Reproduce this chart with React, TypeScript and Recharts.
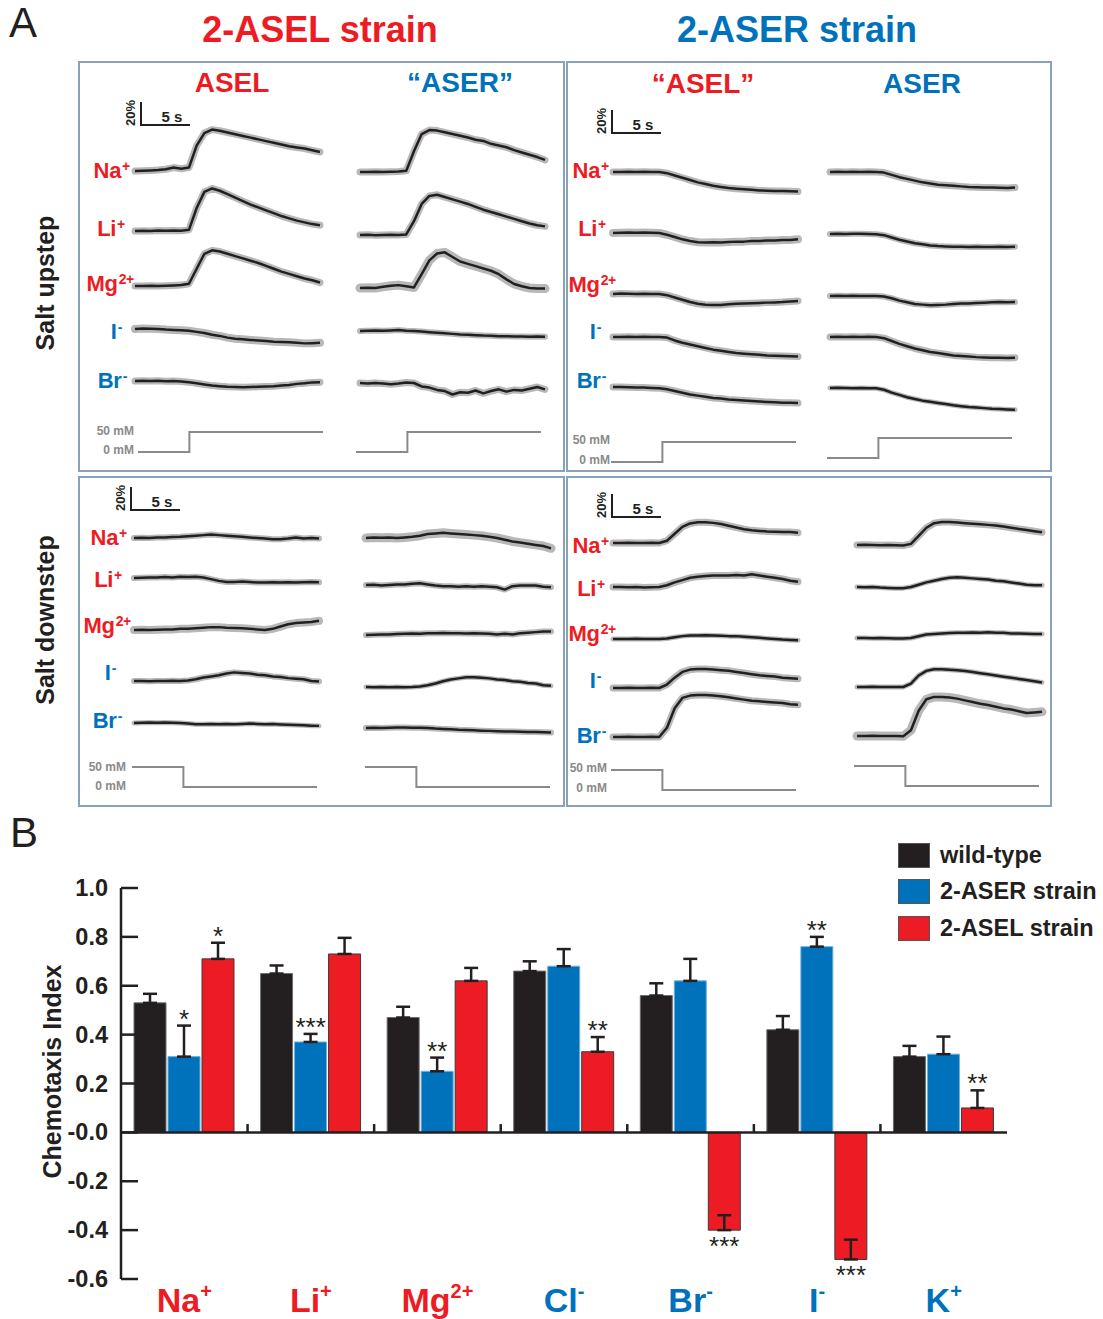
import {
  Bar,
  BarChart,
  ErrorBar,
  LabelList,
  Legend,
  Line,
  LineChart,
  ReferenceLine,
  XAxis,
  YAxis,
} from "recharts";

const RED = "#ed1c24";
const BLUE = "#0072bc";
const INK = "#231f20";
const FRAME = "#88a3b6";
const STIM_GRAY = "#8a8a8a";
const BAND_GRAY = "#b8b8b8";
const FONT = "'Liberation Sans', Arial, Helvetica, sans-serif";
const PAGE_W = 1103;
const PAGE_H = 1319;

// ---------- Panel A: calcium traces (% dF/F, one sample every 0.75 s) ----------
// salt upstep, 2-ASEL strain, ASEL
const UP_ASEL_NA = [0, 0.3, 0.5, 0.8, 1.5, 3, 2, 3, 22, 33, 36, 35, 33.5, 32, 30.5, 29, 27.5, 26, 24.5, 23, 21.5, 20.5, 19.5, 18, 16.5];
const UP_ASEL_LI = [0, 0.3, 0, 0.4, 0.2, 0.5, 0.3, 1, 20, 34, 37, 35, 32, 29, 26, 23, 20.5, 18, 15.5, 13, 11, 9, 7.5, 6, 5];
const UP_ASEL_MG = [0, 0, 0.3, 0, 0.2, 0.5, 0.8, 2, 15, 28, 31, 30, 28, 26, 24, 22, 20, 17.5, 15, 12.5, 10.5, 8.5, 6.5, 5, 3];
const UP_ASEL_I = [0, 0.5, 0.3, 0, -0.5, -0.8, -1, -1.5, -2.5, -3.5, -5, -6, -7.5, -8.5, -9, -9.5, -10, -10.5, -11, -11.2, -11.5, -12, -12.5, -12.3, -12];
const UP_ASEL_BR = [0, 0.3, 0, 0.2, -0.2, 0, -0.5, -1, -2, -3, -4, -4.5, -5, -5.2, -5.5, -5.3, -5, -4.8, -4.5, -4, -3.5, -2.5, -2, -1.2, -1];
// salt upstep, 2-ASEL strain, "ASER"
const UP_XASER_NA = [0, 0, 0.3, 0, 0.3, 0.5, 1, 18, 33, 36.5, 36, 34.5, 33, 31.5, 30, 28, 27, 24.5, 23, 21.5, 19, 17, 15, 13, 10.5];
const UP_XASER_LI = [0, 0.2, -0.2, 0, 0.3, 0, 0.5, 12, 27, 34, 35, 33, 31, 29, 27, 24.5, 22, 20, 18, 16, 14, 12, 10, 8.5, 7.5];
const UP_XASER_MG = [0, 0.3, 0, 1, 2, 2.5, 1.5, 0.5, 12, 24, 30, 31, 27, 23, 21, 19, 17, 15, 12, 7.5, 3.5, 1.5, 0, -0.5, -0.5];
const UP_XASER_I = [0, 0.3, 0.5, 0.3, 0.5, 0.8, 0.3, 0, -0.5, -1, -1.5, -2, -2.5, -3, -3.3, -3.6, -4, -4.2, -4.5, -4.6, -4.7, -4.8, -5, -4.8, -5];
const UP_XASER_BR = [0, -0.5, 0, -0.5, -1, -0.5, 0.5, 0, -3, -4, -6, -7, -10, -8, -8.5, -6.5, -9, -7, -5.5, -7.5, -6, -6.5, -5, -3.5, -5.5];
// salt upstep, 2-ASER strain, "ASEL"
const UP_XASEL_NA = [0, 0, 0.2, 0, 0.2, 0, 0, -1, -3, -5, -7, -9, -10.5, -12, -13, -14, -14.5, -15, -15.5, -16, -16.2, -16.5, -16.5, -16.8, -17];
const UP_XASEL_LI = [0, 0.3, 0.5, 0.3, 0.5, 0.3, 0, -1.5, -3.5, -5.5, -7, -8, -8.2, -8, -8.2, -7.8, -7.5, -7.5, -7, -7, -6.5, -6.5, -6, -6, -5.5];
const UP_XASEL_MG = [0, 0.5, 0.3, 0, 0.3, 0, 0, -1, -3, -5, -7, -8.5, -9.3, -9.5, -9.5, -9, -8.5, -8.3, -8, -7.8, -7.5, -7.3, -7, -6.5, -6];
const UP_XASEL_I = [0, 0, 0.3, 0, 0.2, 0, 0, -0.5, -3, -5, -6.5, -8, -9.5, -11, -12, -13, -14, -14.5, -15, -15.5, -16, -16.3, -16.5, -16.8, -17];
const UP_XASEL_BR = [0, 0, -0.3, -0.5, -0.5, -0.8, -1, -2, -3.5, -5, -6.5, -7.5, -8.5, -9.5, -10, -10.8, -11.3, -11.8, -12.2, -12.6, -13, -13.3, -13.6, -13.8, -14];
// salt upstep, 2-ASER strain, ASER
const UP_ASER_NA = [0, 0.2, 0, 0.3, 0, 0.2, 0, -0.5, -2.5, -4.5, -6, -7.5, -9, -10, -11, -11.5, -12, -12.5, -13, -13.2, -13.5, -13.5, -13.8, -14, -13.5];
const UP_ASER_LI = [0, 0.2, 0, 0.3, 0.2, 0, -0.2, -1, -3, -5, -6.5, -8, -9, -10, -10.5, -10.8, -11, -11, -11.2, -11, -11.2, -11.3, -11, -11.2, -11];
const UP_ASER_MG = [0, 0.2, 0, 0.3, 0, 0, 0, -0.5, -2, -4, -5.5, -7, -7.5, -8, -7.8, -7.5, -7, -6.5, -6.5, -6, -5.8, -5.5, -5.3, -5.5, -5.3];
const UP_ASER_I = [0, 0.2, 0, 0.3, 0, 0.2, 0, -1, -3.5, -6, -8, -10, -11.5, -13, -14, -15, -16, -16.5, -17, -17.5, -17.8, -18, -18, -18.2, -18];
const UP_ASER_BR = [0, 0.2, 0, -0.2, 0, -0.3, -0.3, -1.5, -4, -6, -8, -9.5, -11, -12, -13, -14, -15, -15.8, -16.5, -17, -17.5, -18, -18.3, -18.6, -19];
// salt downstep, 2-ASEL strain, ASEL
const DN_ASEL_NA = [0, 0.3, 0, 0.5, 0.5, 0.8, 1, 1.5, 2, 2.5, 3, 2.5, 2, 1.5, 1, 0.5, 0, -0.5, -1, -1, -0.5, 0.5, -0.5, 0, -0.5];
const DN_ASEL_LI = [0, 0.3, 0.5, 0.5, 0.8, 0.5, 1, 0.8, 1, 0.5, -1, -2.5, -3.5, -3.5, -3, -3.5, -4, -4, -3.8, -4, -3.8, -4, -3.8, -3.5, -3.8];
const DN_ASEL_MG = [0, 0.3, 0, 0.3, 0.5, 0.5, 1, 1, 1.5, 2, 2.5, 2.5, 2, 1.8, 1.5, 1, 0.5, 0, 1, 3, 5, 6, 6.5, 7, 8];
const DN_ASEL_I = [0, 0, -0.3, 0, 0, 0.3, 0, 0.5, 1.5, 3, 4, 5, 6.5, 7.5, 7, 6.5, 5.5, 5, 4, 3.5, 2.5, 2, 1.5, 0, -0.5];
const DN_ASEL_BR = [0, 0.3, 0.5, 0.3, 0.5, 0.3, 0, -0.5, -1, -1, -0.8, -1, -0.8, -1, -0.8, -0.5, -0.8, -1, -0.8, -1.2, -1.5, -1.8, -2, -2.3, -2.5];
// salt downstep, 2-ASEL strain, "ASER"
const DN_XASER_NA = [0, 0.5, 0.3, 0.5, 0, 0.5, 1, 2, 3.5, 4, 4.5, 4, 3.5, 3, 2.5, 2, 1, 0, -1.5, -3, -4, -5, -6, -7, -9];
const DN_XASER_LI = [0, 0.3, -0.5, 0, 0.5, 0.5, 1, 1.5, 0.5, -0.5, -1, -1, -1.5, -1, -1.5, -1, -1.5, -2, -4, -1, -0.5, -0.5, -0.5, -1.5, -2];
const DN_XASER_MG = [0, 0.3, 0.5, 0.5, 0.8, 1, 1.2, 1, 1.5, 1.5, 1.8, 1.5, 1.5, 1.2, 1.5, 1.2, 1, 0.5, 1, 0.5, 1.5, 2, 2.5, 3, 3];
const DN_XASER_I = [0, -0.3, 0, -0.3, 0, -0.3, 0, 0.5, 1.5, 3, 5, 6.5, 7.5, 8.5, 8.5, 8, 7.5, 6.5, 6, 5, 4.5, 3.5, 3, 1.5, 1];
const DN_XASER_BR = [0, 0.3, 0, 0.3, 0.5, 0.5, 0.3, 0.3, 0, -0.5, -0.8, -1, -1.5, -1.8, -2, -2.3, -2.5, -2.8, -3, -3, -3.2, -3.5, -3.5, -3.8, -4];
// salt downstep, 2-ASER strain, "ASEL"
const DN_XASEL_NA = [0, 0, 0.2, 0, 0, 0.3, 0, 2, 8, 14, 17, 18, 18, 17.5, 16.5, 15, 13.5, 12, 11, 10.5, 10, 9.8, 9.5, 9.5, 9];
const DN_XASEL_LI = [0, 0, -0.3, 0, -0.5, -0.3, 0, 1.5, 4, 6, 8, 9, 9.5, 10, 10, 10, 10.5, 10, 11, 10, 9, 8, 7, 5.5, 4.5];
const DN_XASEL_MG = [0, 0, 0, 0.3, 0, 0, 0, 0.5, 1.5, 2.5, 3, 3, 3.2, 3, 2.8, 2.5, 2.5, 2, 1.5, 1, 0.5, 0, -0.5, -0.8, -1];
const DN_XASEL_I = [0, 0, 0.3, 0, 0, 0.3, 0, 3, 9, 14, 16, 16.5, 16.5, 16, 15.5, 15, 14, 13, 12, 11, 10.5, 10, 9, 8.5, 8];
const DN_XASEL_BR = [0, 0, 0.3, 0, 0, 0.3, 0, 8, 25, 34, 36, 36.5, 36.5, 36, 35.5, 34.5, 33.5, 32.5, 31.5, 31, 30.5, 30, 29.5, 28.5, 28];
// salt downstep, 2-ASER strain, ASER
const DN_ASER_NA = [0, 0.2, 0, -0.3, 0, -0.3, -0.5, 1, 8, 15, 19, 20, 20, 19.5, 19, 18.5, 18, 17.5, 17, 16, 15, 14, 13, 12, 11];
const DN_ASER_LI = [0, -0.3, 0, -0.5, -0.8, -1, -1, 0, 2, 4, 5.5, 7, 8, 8.5, 8, 7.5, 7, 6.5, 5.5, 5, 4, 3, 2, 1.5, 1.5];
const DN_ASER_MG = [0, 0, -0.3, 0, -0.3, -0.5, -0.5, 0, 1.5, 3, 3.5, 4, 4.3, 4.5, 4.5, 4.8, 4.5, 5, 4.5, 4.5, 4, 4, 3.8, 3.5, 3.5];
const DN_ASER_I = [0, 0, 0.3, 0, 0, 0, 0, 3, 10, 14, 15.5, 15.5, 15, 14.5, 14, 13, 12, 11, 10, 9, 8, 7, 6, 5, 4];
const DN_ASER_BR = [0, 0, 0.3, 0, 0, 0, -0.3, 5, 22, 32, 34, 34, 33.5, 32.5, 31, 29.5, 28, 27, 25.5, 24, 23, 21.5, 20, 20.5, 21];

// stimulus (mM) at seconds
const STIM_T = [0, 5, 18];
const STIM_UP = [0, 50, 50];
const STIM_DOWN = [50, 0, 0];

const TRACE_IONS = ["Na", "Li", "Mg", "I", "Br"];
const TRACE_SUPS = ["+", "+", "2+", "-", "-"];
const TRACE_COLORS = [RED, RED, RED, BLUE, BLUE];

// ---------- Panel B: chemotaxis index ----------
const IONS = ["Na", "Li", "Mg", "Cl", "Br", "I", "K"];
const ION_SUP = ["+", "+", "2+", "-", "-", "-", "+"];
const ION_COLOR = [RED, RED, RED, BLUE, BLUE, BLUE, BLUE];
const WILD_TYPE = [0.53, 0.65, 0.47, 0.66, 0.56, 0.42, 0.31];
const WILD_TYPE_SEM = [0.037, 0.033, 0.044, 0.04, 0.05, 0.056, 0.044];
const ASER_STRAIN = [0.31, 0.37, 0.25, 0.68, 0.62, 0.76, 0.32];
const ASER_STRAIN_SEM = [0.127, 0.033, 0.056, 0.07, 0.09, 0.04, 0.072];
const ASEL_STRAIN = [0.71, 0.73, 0.62, 0.33, -0.4, -0.52, 0.1];
const ASEL_STRAIN_SEM = [0.066, 0.066, 0.053, 0.06, 0.061, 0.081, 0.072];
const ASER_SIG = ["*", "***", "**", "", "", "**", ""];
const ASEL_SIG = ["*", "", "", "**", "***", "***", "**"];
const Y_TICKS = [1.0, 0.8, 0.6, 0.4, 0.2, 0, -0.2, -0.4, -0.6];
const SERIES_NAMES = ["wild-type", "2-ASER strain", "2-ASEL strain"];
const SERIES_COLORS = [INK, BLUE, RED];

// ---------- layout ----------
const TRACE_W = 185;
const TRACE_PAD = 5;
const PX_PER_PCT = 1.15; // 20% scale bar is 23 px
const PCT_MIN = -40;
const PCT_MAX = 80;

const PANELS = [
  { left: 135, base: [171, 231, 286, 329, 381], traces: [UP_ASEL_NA, UP_ASEL_LI, UP_ASEL_MG, UP_ASEL_I, UP_ASEL_BR], bands: [7, 7, 7, 8, 7] },
  { left: 360, base: [172, 235, 288, 331, 383], traces: [UP_XASER_NA, UP_XASER_LI, UP_XASER_MG, UP_XASER_I, UP_XASER_BR], bands: [7, 7, 9, 6, 7] },
  { left: 613, base: [172, 233, 294, 337, 387], traces: [UP_XASEL_NA, UP_XASEL_LI, UP_XASEL_MG, UP_XASEL_I, UP_XASEL_BR], bands: [7, 8, 7, 7, 7] },
  { left: 830, base: [172, 234, 296, 337, 388], traces: [UP_ASER_NA, UP_ASER_LI, UP_ASER_MG, UP_ASER_I, UP_ASER_BR], bands: [7, 6, 6, 7, 5] },
  { left: 134, base: [538, 578, 630, 681, 723], traces: [DN_ASEL_NA, DN_ASEL_LI, DN_ASEL_MG, DN_ASEL_I, DN_ASEL_BR], bands: [6, 6, 8, 6, 5] },
  { left: 366, base: [538, 585, 635, 687, 728], traces: [DN_XASER_NA, DN_XASER_LI, DN_XASER_MG, DN_XASER_I, DN_XASER_BR], bands: [9, 6, 6, 5, 6] },
  { left: 613, base: [543, 587, 639, 688, 737], traces: [DN_XASEL_NA, DN_XASEL_LI, DN_XASEL_MG, DN_XASEL_I, DN_XASEL_BR], bands: [7, 7, 5, 7, 7] },
  { left: 857, base: [545, 587, 638, 687, 736], traces: [DN_ASER_NA, DN_ASER_LI, DN_ASER_MG, DN_ASER_I, DN_ASER_BR], bands: [7, 5, 5, 5, 9] },
];

const STIMS = [
  { left: 138, y50: 432, conc: STIM_UP },
  { left: 356, y50: 432, conc: STIM_UP },
  { left: 611, y50: 442, conc: STIM_UP },
  { left: 827, y50: 438, conc: STIM_UP },
  { left: 132, y50: 767, conc: STIM_DOWN },
  { left: 365, y50: 767, conc: STIM_DOWN },
  { left: 611, y50: 770, conc: STIM_DOWN },
  { left: 854, y50: 766, conc: STIM_DOWN },
];

const STIM_LABELS = [
  { right: 134, y50: 432, y0: 451 },
  { right: 610, y50: 441, y0: 461 },
  { right: 126, y50: 768, y0: 787 },
  { right: 607, y50: 769, y0: 789 },
];

const ION_LABELS = [
  { rights: [130, 125, 134, 122, 127], cys: [171, 229, 284, 332, 381] },
  { rights: [609, 606, 616, 601, 606], cys: [171, 229, 285, 332, 381] },
  { rights: [127, 122, 131, 116, 122], cys: [538, 580, 626, 673, 721] },
  { rights: [609, 605, 616, 601, 606], cys: [546, 589, 634, 681, 736] },
];

const SCALE_BARS = [
  { x: 141, y: 125 },
  { x: 612, y: 133 },
  { x: 131, y: 510 },
  { x: 612, y: 517 },
];

const BOXES = [
  { left: 78, top: 61, width: 487, height: 411 },
  { left: 566, top: 61, width: 486, height: 411 },
  { left: 78, top: 476, width: 487, height: 331 },
  { left: 566, top: 476, width: 486, height: 331 },
];

// bar chart geometry
const BAR_TOP = 820;
const BAR_H = 499;
const BAR_MARGIN = { top: 68, right: 96, bottom: 0, left: 0 };
const Y_AXIS_W = 121;
const X_AXIS_H = 40;
const PLOT_H = BAR_H - BAR_MARGIN.top - BAR_MARGIN.bottom - X_AXIS_H;
const PX_PER_UNIT = PLOT_H / 1.6;

function Trace({ values, left, baseline, band }: any) {
  const data = values.map((v: number, i: number) => ({ i, v }));
  return (
    <div style={{ position: "absolute", left: left - TRACE_PAD, top: baseline - PCT_MAX * PX_PER_PCT }}>
      <LineChart
        width={TRACE_W + 2 * TRACE_PAD}
        height={(PCT_MAX - PCT_MIN) * PX_PER_PCT}
        data={data}
        margin={{ top: 0, bottom: 0, left: TRACE_PAD, right: TRACE_PAD }}
      >
        <XAxis dataKey="i" type="number" domain={[0, values.length - 1]} hide />
        <YAxis type="number" domain={[PCT_MIN, PCT_MAX]} hide />
        <Line
          dataKey="v"
          stroke={BAND_GRAY}
          strokeWidth={band}
          strokeLinejoin="round"
          strokeLinecap="round"
          dot={false}
          activeDot={false}
          isAnimationActive={false}
        />
        <Line
          dataKey="v"
          stroke={INK}
          strokeWidth={2.5}
          strokeLinejoin="round"
          dot={false}
          activeDot={false}
          isAnimationActive={false}
        />
      </LineChart>
    </div>
  );
}

function Stim({ left, y50, conc }: any) {
  const data = STIM_T.map((t, i) => ({ t, c: conc[i] }));
  return (
    <div style={{ position: "absolute", left: left - 2, top: y50 - 2 }}>
      <LineChart width={TRACE_W + 4} height={24} data={data} margin={{ top: 2, bottom: 2, left: 2, right: 2 }}>
        <XAxis dataKey="t" type="number" domain={[0, 18]} hide />
        <YAxis type="number" domain={[0, 50]} hide />
        <Line type="stepAfter" dataKey="c" stroke={STIM_GRAY} strokeWidth={2} dot={false} activeDot={false} isAnimationActive={false} />
      </LineChart>
    </div>
  );
}

function Centered({ cx, cy, size, color = INK, weight = 700, rotate = 0, children }: any) {
  return (
    <div
      style={{
        position: "absolute",
        left: cx,
        top: cy,
        transform: `translate(-50%, -50%) rotate(${rotate}deg)`,
        fontSize: size,
        lineHeight: `${size}px`,
        fontWeight: weight,
        color,
        whiteSpace: "nowrap",
      }}
    >
      {children}
    </div>
  );
}

function IonLabel({ name, sup, color, right, cy }: any) {
  return (
    <div
      style={{
        position: "absolute",
        right: PAGE_W - right,
        top: cy - 12,
        fontSize: 22,
        lineHeight: "24px",
        fontWeight: 700,
        color,
        whiteSpace: "nowrap",
        letterSpacing: -0.3,
      }}
    >
      {name}
      <span style={{ fontSize: 14, position: "relative", top: -7, marginLeft: 1 }}>{sup}</span>
    </div>
  );
}

function ScaleBar({ x, y }: any) {
  return (
    <>
      <div style={{ position: "absolute", left: x - 1, top: y - 23, width: 2, height: 24, background: INK }} />
      <div style={{ position: "absolute", left: x - 1, top: y - 1, width: 50, height: 2, background: INK }} />
      <Centered cx={x - 11} cy={y - 12} size={13} rotate={-90}>20%</Centered>
      <Centered cx={x + 31} cy={y - 9} size={15}>5 s</Centered>
    </>
  );
}

function YTick({ x, y, payload }: any) {
  const v = payload.value;
  const label = v === 0 ? "-0.0" : v.toFixed(1);
  return (
    <g>
      <line x1={x} x2={x + 17} y1={y} y2={y} stroke={INK} strokeWidth={2.5} />
      <text x={x - 13} y={y} dy={8} textAnchor="end" fill={INK} fontFamily={FONT} fontWeight={700} fontSize={23.5}>
        {label}
      </text>
    </g>
  );
}

function IonTick({ x, y, payload }: any) {
  const i = IONS.indexOf(payload.value);
  return (
    <text x={x} y={y + 33} textAnchor="middle" fill={ION_COLOR[i]} fontFamily={FONT} fontWeight={700} fontSize={34}>
      {payload.value}
      <tspan dy={-14} fontSize={20}>
        {ION_SUP[i]}
      </tspan>
    </text>
  );
}

const sigLabel = (values: number[], sems: number[]) => (props: any) => {
  const vb = props.viewBox ?? props;
  const x = props.x ?? vb.x;
  const y = props.y ?? vb.y;
  const width = props.width ?? vb.width;
  const height = props.height ?? vb.height;
  const { value, index } = props;
  if (!value) return null;
  const top = Math.min(y, y + height);
  const bottom = Math.max(y, y + height);
  const ty = values[index] >= 0 ? top - sems[index] * PX_PER_UNIT + 2 : bottom + 25;
  return (
    <text x={x + width / 2} y={ty} textAnchor="middle" fill={INK} fontFamily={FONT} fontSize={26}>
      {value}
    </text>
  );
};

function LegendBox() {
  return (
    <div style={{ fontFamily: FONT }}>
      {SERIES_NAMES.map((name, i) => (
        <div key={name} style={{ display: "flex", alignItems: "center", height: 36.5 }}>
          <div
            style={{
              width: 32,
              height: 25,
              background: SERIES_COLORS[i],
              border: "1px solid #555",
              boxSizing: "border-box",
              marginRight: 10,
            }}
          />
          <span style={{ fontSize: 23.5, fontWeight: 700, color: INK }}>{name}</span>
        </div>
      ))}
    </div>
  );
}

function ChemotaxisChart() {
  const data = IONS.map((ion, i) => ({
    ion,
    wt: WILD_TYPE[i],
    wtErr: [0, WILD_TYPE_SEM[i]],
    aser: ASER_STRAIN[i],
    aserErr: [0, ASER_STRAIN_SEM[i]],
    asel: ASEL_STRAIN[i],
    aselErr: [0, ASEL_STRAIN_SEM[i]],
    aserSig: ASER_SIG[i],
    aselSig: ASEL_SIG[i],
  }));
  return (
    <div style={{ position: "absolute", left: 0, top: BAR_TOP }}>
      <BarChart width={PAGE_W} height={BAR_H} data={data} margin={BAR_MARGIN} barGap={2} barSize={32}>
        <XAxis
          dataKey="ion"
          axisLine={false}
          tickLine={false}
          tickSize={0}
          tickMargin={0}
          height={X_AXIS_H}
          interval={0}
          tick={<IonTick />}
        />
        <YAxis
          type="number"
          domain={[-0.6, 1.0]}
          ticks={Y_TICKS}
          interval={0}
          width={Y_AXIS_W}
          axisLine={{ stroke: INK, strokeWidth: 2.5 }}
          tickLine={false}
          tickSize={0}
          tickMargin={0}
          tick={<YTick />}
          label={(p: any) => {
            const vb = p.viewBox;
            const cx = vb.x + 52;
            const cy = vb.y + vb.height / 2 - 12;
            return (
              <text
                x={cx}
                y={cy}
                transform={`rotate(-90 ${cx} ${cy})`}
                textAnchor="middle"
                dominantBaseline="central"
                fill={INK}
                fontFamily={FONT}
                fontWeight={700}
                fontSize={25}
              >
                Chemotaxis Index
              </text>
            );
          }}
        />
        <Legend
          layout="vertical"
          align="center"
          verticalAlign="middle"
          wrapperStyle={{ top: 17, left: 898, width: 210 }}
          content={<LegendBox />}
        />
        <Bar dataKey="wt" name={SERIES_NAMES[0]} fill={SERIES_COLORS[0]} stroke="#6d6e71" strokeWidth={1} isAnimationActive={false}>
          <ErrorBar dataKey="wtErr" width={7} strokeWidth={2.5} stroke={INK} direction="y" />
        </Bar>
        <Bar dataKey="aser" name={SERIES_NAMES[1]} fill={SERIES_COLORS[1]} stroke="#6fb0de" strokeWidth={1} isAnimationActive={false}>
          <ErrorBar dataKey="aserErr" width={7} strokeWidth={2.5} stroke={INK} direction="y" />
          <LabelList dataKey="aserSig" content={sigLabel(ASER_STRAIN, ASER_STRAIN_SEM)} />
        </Bar>
        <Bar dataKey="asel" name={SERIES_NAMES[2]} fill={SERIES_COLORS[2]} stroke="#3a3a3a" strokeWidth={1} isAnimationActive={false}>
          <ErrorBar dataKey="aselErr" width={7} strokeWidth={2.5} stroke={INK} direction="y" />
          <LabelList dataKey="aselSig" content={sigLabel(ASEL_STRAIN, ASEL_STRAIN_SEM)} />
        </Bar>
        <ReferenceLine y={0} stroke={INK} strokeWidth={2.5} />
        {IONS.slice(1).map((ion) => (
          <ReferenceLine
            key={ion}
            segment={[
              { x: ion, y: 0 },
              { x: ion, y: 0.034 },
            ]}
            position="start"
            stroke={INK}
            strokeWidth={2.5}
          />
        ))}
      </BarChart>
    </div>
  );
}

export default function App() {
  return (
    <div
      style={{
        position: "relative",
        width: PAGE_W,
        height: PAGE_H,
        background: "#fff",
        overflow: "hidden",
        fontFamily: FONT,
        color: INK,
      }}
    >
      <style>{"body{margin:0}"}</style>

      {/* panel letters and headings */}
      <div style={{ position: "absolute", left: 9, top: 2, fontSize: 42, lineHeight: "42px", fontWeight: 400 }}>A</div>
      <div style={{ position: "absolute", left: 10, top: 812, fontSize: 42, lineHeight: "42px", fontWeight: 400 }}>B</div>
      <Centered cx={320} cy={30} size={36} color={RED}>2-ASEL strain</Centered>
      <Centered cx={797} cy={30} size={36} color={BLUE}>2-ASER strain</Centered>

      {BOXES.map((b, i) => (
        <div
          key={i}
          style={{
            position: "absolute",
            left: b.left,
            top: b.top,
            width: b.width,
            height: b.height,
            border: `2px solid ${FRAME}`,
            boxSizing: "border-box",
          }}
        />
      ))}

      <Centered cx={232} cy={83} size={28} color={RED}>ASEL</Centered>
      <Centered cx={460} cy={83} size={28} color={BLUE}>“ASER”</Centered>
      <Centered cx={703} cy={84} size={28} color={RED}>“ASEL”</Centered>
      <Centered cx={922} cy={84} size={28} color={BLUE}>ASER</Centered>

      <Centered cx={45} cy={283} size={25} rotate={-90}>Salt upstep</Centered>
      <Centered cx={45} cy={620} size={25} rotate={-90}>Salt downstep</Centered>

      {SCALE_BARS.map((s, i) => (
        <ScaleBar key={i} {...s} />
      ))}

      {ION_LABELS.map((box, b) =>
        TRACE_IONS.map((ion, i) => (
          <IonLabel
            key={`${b}-${ion}`}
            name={ion}
            sup={TRACE_SUPS[i]}
            color={TRACE_COLORS[i]}
            right={box.rights[i]}
            cy={box.cys[i]}
          />
        )),
      )}

      {STIM_LABELS.map((s, i) => (
        <div key={i}>
          <div style={{ position: "absolute", right: PAGE_W - s.right, top: s.y50 - 7, fontSize: 12, lineHeight: "13px", fontWeight: 700, color: STIM_GRAY }}>
            50 mM
          </div>
          <div style={{ position: "absolute", right: PAGE_W - s.right, top: s.y0 - 7, fontSize: 12, lineHeight: "13px", fontWeight: 700, color: STIM_GRAY }}>
            0 mM
          </div>
        </div>
      ))}

      {PANELS.map((p, pi) =>
        p.traces.map((values, ti) => (
          <Trace key={`${pi}-${ti}`} values={values} left={p.left} baseline={p.base[ti]} band={p.bands[ti]} />
        )),
      )}

      {STIMS.map((s, i) => (
        <Stim key={i} {...s} />
      ))}

      <ChemotaxisChart />
    </div>
  );
}
